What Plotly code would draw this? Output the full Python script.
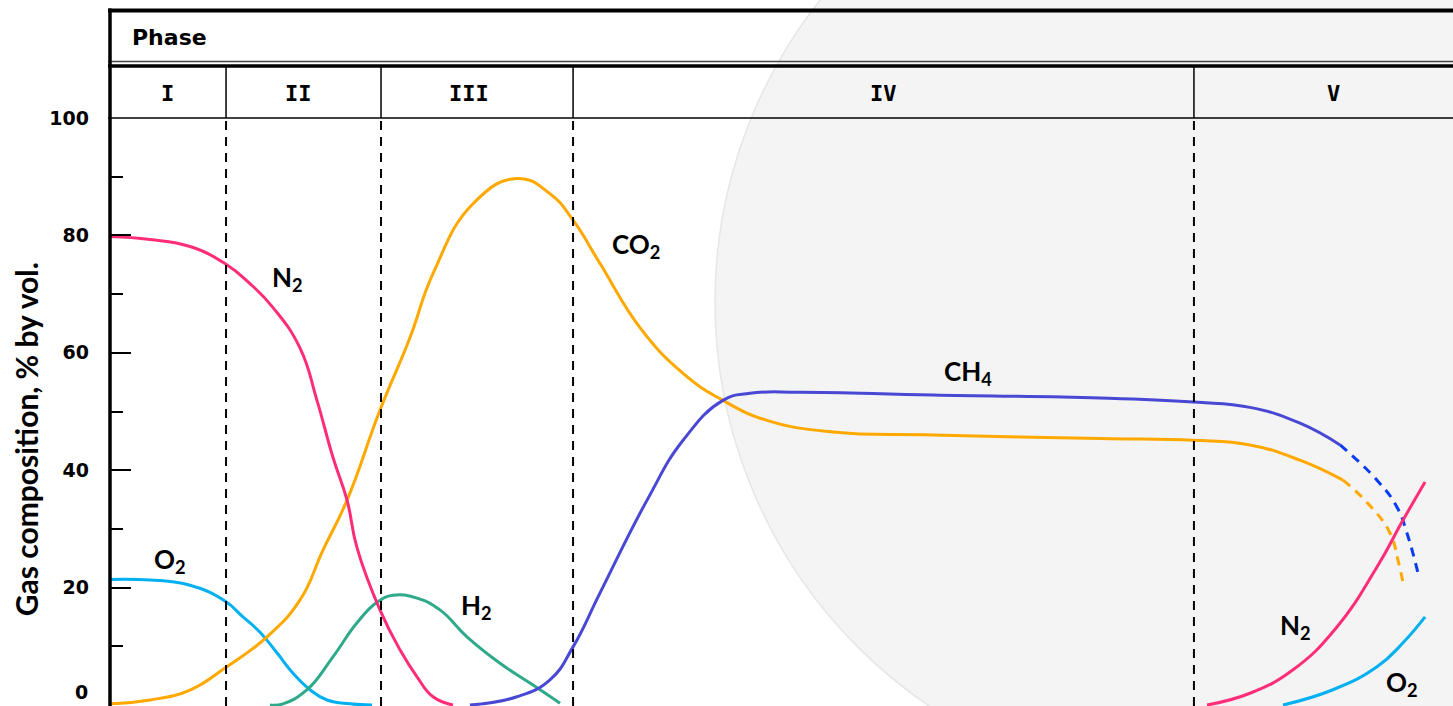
import plotly.graph_objects as go

# ---------------- data (x: time in arbitrary units 0-100, y: % by vol.) ----------------
n2_start_x = [0, 2.98, 5.96, 8.56, 10.42, 12.14, 14.15, 15.41, 16.60, 17.65, 18.39, 20.10, 21.59, 22.86, 24.05, 25.54]
n2_start_y = [79.8, 79.3, 78.1, 75.2, 71.8, 67.7, 60.8, 51.9, 42.2, 34.9, 26.8, 16.2, 9.4, 4.8, 1.4, 0]

o2_start_x = [0, 2.98, 5.96, 8.56, 9.90, 11.17, 12.43, 13.63, 14.89, 16.16, 17.87, 19.51]
o2_start_y = [21.4, 21.3, 20.4, 17.7, 15.0, 12.4, 8.9, 5.4, 2.6, 0.85, 0.2, 0]

co2_x = [0, 2.98, 5.96, 8.56, 11.69, 14.15, 15.86, 17.65, 20.10, 22.34, 24.05, 27.03, 30.30, 32.76,
         34.48, 36.49, 39.46, 42.67, 45.64, 48.92, 53.83, 61.28, 73.72, 80.64, 84.88, 88.61, 91.81]
co2_y = [0.2, 0.85, 2.55, 6.3, 11.6, 17.9, 26.4, 34.9, 50.2, 62.6, 73.5, 85.4, 89.7, 87.1,
         82.6, 75.2, 64.3, 56.5, 51.9, 48.5, 46.5, 46.0, 45.4, 45.1, 44.3, 41.7, 38.3]
co2_tail_x = [91.81, 93.64, 95.31, 95.90, 96.28]
co2_tail_y = [38.3, 34.4, 29.3, 24.7, 20.8]

h2_x = [11.91, 12.88, 14.67, 16.60, 18.39, 19.88, 21.07, 22.86, 24.57, 26.58, 29.04, 31.50, 33.51]
h2_y = [0, 0.2, 2.6, 8.2, 14.0, 17.5, 18.7, 18.2, 16.2, 11.6, 7.1, 3.4, 0.3]

ch4_x = [26.80, 30.30, 32.76, 34.48, 36.49, 39.99, 42.67, 45.64, 47.66, 51.38, 61.28, 73.72,
         80.64, 84.88, 88.61, 91.59]
ch4_y = [0, 1.4, 4.3, 9.9, 19.1, 34.9, 45.1, 51.9, 53.1, 53.3, 52.8, 52.3,
         51.6, 50.7, 48.0, 44.3]
ch4_tail_x = [91.59, 94.34, 95.83, 96.57, 97.39]
ch4_tail_y = [44.3, 38.3, 33.7, 29.3, 22.5]

n2_end_x = [81.68, 84.88, 88.09, 91.36, 94.34, 96.28, 97.92]
n2_end_y = [0, 2.0, 6.0, 13.3, 23.5, 31.5, 38.0]

o2_end_x = [87.34, 91.06, 94.34, 96.28, 97.92]
o2_end_y = [0, 2.6, 6.5, 10.6, 15.0]

phase_names = ["I", "II", "III", "IV", "V"]
phase_bounds = [8.64, 20.18, 34.48, 80.71]
phase_label_x = [4.3, 14.0, 26.7, 57.6, 91.1]

y_ticks = [20, 40, 60, 80, 100]

gas_labels = ["O<sub>2</sub>", "N<sub>2</sub>", "CO<sub>2</sub>", "H<sub>2</sub>",
              "CH<sub>4</sub>", "N<sub>2</sub>", "O<sub>2</sub>"]
gas_label_x = [4.47, 13.25, 39.2, 27.3, 63.9, 88.3, 96.2]
gas_label_y = [24.7, 72.7, 78.3, 16.7, 56.7, 13.4, 3.7]

# ---------------- styling ----------------
C_N2 = "#FF2D78"
C_O2 = "#00B0F0"
C_CO2 = "#FFA800"
C_H2 = "#2EAA8A"
C_CH4 = "#4848D4"
C_CH4_DASH = "#0A3CF5"

W, H = 1453, 706
L, T = 110, 117.5


def xp(p):
    return (p - L) / (W - L)


def yp(p):
    return (H - p) / (H - T)


fig = go.Figure()


def add_line(x, y, color, dash="solid"):
    fig.add_trace(go.Scatter(x=x, y=y, mode="lines",
                             line=dict(color=color, width=3, shape="spline", smoothing=1.3, dash=dash),
                             hoverinfo="skip", showlegend=False))


add_line(o2_start_x, o2_start_y, C_O2)
add_line(h2_x, h2_y, C_H2)
add_line(co2_x, co2_y, C_CO2)
add_line(co2_tail_x, co2_tail_y, C_CO2, dash="9px,7px")
add_line(ch4_x, ch4_y, C_CH4)
add_line(ch4_tail_x, ch4_tail_y, C_CH4_DASH, dash="9px,7px")
add_line(n2_start_x, n2_start_y, C_N2)
add_line(n2_end_x, n2_end_y, C_N2)
add_line(o2_end_x, o2_end_y, C_O2)

shapes = []
# faint watermark seal in the background
shapes.append(dict(type="circle", xref="paper", yref="paper", layer="below",
                   x0=xp(1203 - 488), x1=xp(1203 + 488), y0=yp(302 + 488), y1=yp(302 - 488),
                   fillcolor="#f4f4f4", line=dict(color="#e6e6e6", width=1.5)))


def hline(ypix, width, color="black", x0pix=L - 2, x1pix=W):
    shapes.append(dict(type="line", xref="paper", yref="paper", x0=xp(x0pix), x1=xp(x1pix),
                       y0=yp(ypix), y1=yp(ypix), line=dict(color=color, width=width)))


hline(10, 4)
hline(61, 1.5, "#444")
hline(65.5, 3.5)
hline(117.5, 1.5)
shapes.append(dict(type="line", xref="paper", yref="paper", x0=0, x1=0, y0=yp(706), y1=yp(8),
                   line=dict(color="black", width=3.5)))

for b in phase_bounds:
    shapes.append(dict(type="line", xref="x", yref="paper", x0=b, x1=b, y0=yp(117.5), y1=yp(66),
                       line=dict(color="black", width=1.5)))
    shapes.append(dict(type="line", xref="x", yref="paper", x0=b, x1=b, y0=0, y1=1,
                       line=dict(color="black", width=2, dash="9px,7px")))

annotations = []
annotations.append(dict(text="<b>Phase</b>", xref="paper", yref="paper", x=xp(130), y=yp(37),
                        xanchor="left", yanchor="middle", showarrow=False,
                        font=dict(family="DejaVu Sans", size=22, color="black")))
for name, lx in zip(phase_names, phase_label_x):
    annotations.append(dict(text="<b>%s</b>" % name, xref="x", yref="paper", x=lx, y=yp(93),
                            xanchor="center", yanchor="middle", showarrow=False,
                            font=dict(family="DejaVu Sans Mono", size=22, color="black")))
for t, gx, gy in zip(gas_labels, gas_label_x, gas_label_y):
    annotations.append(dict(text="<b>%s</b>" % t, x=gx, y=gy, xref="x", yref="y",
                            xanchor="center", yanchor="middle", showarrow=False,
                            font=dict(family="Lato", size=26, color="black")))
annotations.append(dict(text="<b>Gas composition, % by vol.</b>", xref="paper", yref="paper",
                        x=xp(26), y=yp(439), textangle=-90, xanchor="center", yanchor="middle",
                        showarrow=False, font=dict(family="Lato", size=30, color="black")))
annotations.append(dict(text="<b>0</b>", xref="paper", yref="y", x=xp(90), y=0,
                        xanchor="right", yanchor="bottom", yshift=0, showarrow=False,
                        font=dict(family="DejaVu Sans", size=19, color="black")))

fig.update_layout(
    width=W, height=H,
    margin=dict(l=L, r=0, t=T, b=0, pad=0),
    paper_bgcolor="white",
    plot_bgcolor="rgba(0,0,0,0)",
    shapes=shapes,
    annotations=annotations,
    showlegend=False,
    xaxis=dict(range=[0, 100], showgrid=False, zeroline=False, showticklabels=False,
               ticks="", showline=False, fixedrange=True),
    yaxis=dict(range=[-0.17, 100], showgrid=False, zeroline=False,
               tickvals=y_ticks, ticks="inside", ticklen=21, tickwidth=2, tickcolor="black",
               showline=False,
               tickfont=dict(family="DejaVu Sans", size=19, color="black", weight="bold"),
               ticklabelstandoff=20,
               minor=dict(dtick=10, tick0=0, ticks="inside", ticklen=13, tickwidth=2, tickcolor="black"),
               fixedrange=True),
)

fig.write_html("out.html")
